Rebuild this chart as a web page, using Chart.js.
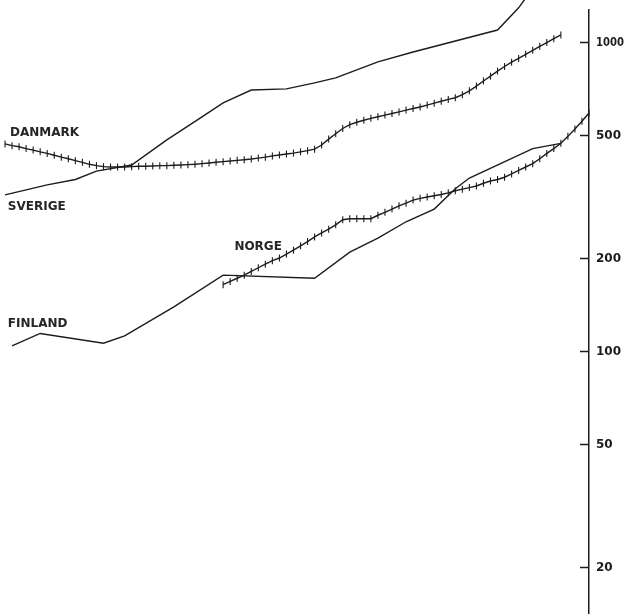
<!DOCTYPE html>
<html>
<head>
<meta charset="utf-8">
<script src="https://cdn.jsdelivr.net/npm/chart.js@4/dist/chart.umd.min.js"></script>
<style>
  html, body { margin: 0; padding: 0; background: #fff; }
  #wrap { width: 626px; height: 614px; }
</style>
</head>
<body>
<div id="wrap"><canvas id="indexChart" width="626" height="614"></canvas></div>
<script>
// y axis ticks (log scale)
const yTicks = [20, 50, 100, 200, 500, 1000];

// Danmark, yearly values 1870-1949 (hatched line)
const danmarkStart = 1870;
const danmarkValues = [
  468, 462, 458, 452, 447, 441, 436, 430, 424, 419,
  413, 408, 402, 398, 395, 394, 394, 394, 395, 396,
  396, 397, 398, 398, 399, 400, 401, 402, 404, 406,
  408, 410, 412, 414, 416, 418, 421, 424, 428, 431,
  434, 437, 441, 445, 450, 464, 485, 505, 525, 540,
  550, 558, 566, 573, 580, 587, 594, 602, 609, 616,
  625, 634, 643, 652, 660, 675, 695, 720, 748, 775,
  805, 833, 860, 885, 912, 940, 968, 996, 1025, 1054
];

// Norge, yearly values 1901-1953 (hatched line)
const norgeStart = 1901;
const norgeValues = [
  164, 168, 172, 176, 181, 186, 191, 196, 200, 206,
  212, 219, 226, 234, 241, 248, 256, 266, 268, 268,
  268, 268, 275, 281, 288, 295, 301, 308, 312, 315,
  318, 321, 325, 330, 334, 338, 342, 349, 355, 359,
  365, 374, 384, 394, 404, 419, 436, 452, 470, 495,
  523, 554, 589
];

// Sverige (plain line)
const sverigeYears = [1870, 1876, 1880, 1883, 1888, 1893, 1898, 1901, 1905, 1910, 1914, 1917, 1923, 1928, 1940, 1943, 1945];
const sverigeValues = [320, 345, 359, 382, 400, 482, 572, 635, 699, 705, 737, 765, 862, 928, 1093, 1290, 1490];

// Finland (plain line)
const finlandYears = [1871, 1875, 1884, 1887, 1894, 1901, 1914, 1919, 1923, 1927, 1931, 1934, 1936, 1945, 1949];
const finlandValues = [104, 114, 106, 112, 139, 176, 172, 209, 232, 262, 288, 335, 363, 452, 470];

// country labels: [text, year, value]
const countryLabels = [
  ["DANMARK", 1870.7, 508],
  ["SVERIGE", 1870.4, 292],
  ["FINLAND", 1870.4, 122],
  ["NORGE", 1902.6, 217]
];

const ink = "#1c1c1c";

function seq(start, values) {
  return values.map((v, i) => ({ x: start + i, y: v }));
}
function pairs(xs, ys) {
  return xs.map((x, i) => ({ x: x, y: ys[i] }));
}

const hatched = {
  borderColor: ink,
  borderWidth: 1.4,
  pointStyle: "line",
  rotation: 90,
  pointRadius: 3.5,
  pointBorderWidth: 1.1,
  pointBorderColor: ink,
  pointBackgroundColor: ink,
  tension: 0,
  clip: false,
};
const plain = {
  borderColor: ink,
  borderWidth: 1.4,
  pointRadius: 0,
  tension: 0,
  clip: false,
};

// right axis: short inward tick marks and the tick labels, placed by the y scale
const axisPlugin = {
  id: "rightAxis",
  afterDatasetsDraw(chart) {
    const { ctx, scales, chartArea } = chart;
    const y = scales.y;
    ctx.save();
    ctx.strokeStyle = ink;
    ctx.lineWidth = 1.5;
    ctx.fillStyle = ink;
    ctx.font = "bold 12px 'DejaVu Sans'";
    ctx.textBaseline = "middle";
    ctx.textAlign = "left";
    y.ticks.forEach((t) => {
      const py = Math.round(y.getPixelForValue(t.value)) + 0.5;
      ctx.beginPath();
      ctx.moveTo(chartArea.right - 9, py);
      ctx.lineTo(chartArea.right, py);
      ctx.stroke();
      // squeeze wide labels (1000) horizontally so they fit the margin
      const txt = String(t.value);
      const sx = Math.min(1, 28 / ctx.measureText(txt).width);
      ctx.save();
      ctx.translate(chartArea.right + 7, py);
      ctx.scale(sx, 1);
      ctx.fillText(txt, 0, 0);
      ctx.restore();
    });
    // country names
    ctx.fillStyle = "#262626";
    countryLabels.forEach(([text, yr, val]) => {
      ctx.fillText(text, scales.x.getPixelForValue(yr), y.getPixelForValue(val));
    });
    ctx.restore();
  },
};

new Chart(document.getElementById("indexChart").getContext("2d"), {
  type: "line",
  data: {
    datasets: [
      { label: "Danmark", data: seq(danmarkStart, danmarkValues), ...hatched },
      { label: "Norge", data: seq(norgeStart, norgeValues), ...hatched },
      { label: "Sverige", data: pairs(sverigeYears, sverigeValues), ...plain },
      { label: "Finland", data: pairs(finlandYears, finlandValues), ...plain },
    ],
  },
  options: {
    responsive: false,
    animation: false,
    events: [],
    layout: { autoPadding: false, padding: { left: 5, top: 10, right: 0, bottom: 0 } },
    plugins: {
      legend: { display: false },
      tooltip: { enabled: false },
    },
    scales: {
      x: {
        type: "linear",
        min: 1870,
        max: 1953,
        display: false,
      },
      y: {
        type: "logarithmic",
        position: "right",
        min: 14.1,
        max: 1269,
        afterBuildTicks: (scale) => {
          scale.ticks = yTicks.map((v) => ({ value: v }));
        },
        afterFit: (scale) => {
          scale.width = 37;
        },
        grid: { display: true, drawOnChartArea: false, drawTicks: false },
        border: { display: true, color: ink, width: 1.5 },
        ticks: { display: false },
      },
    },
  },
  plugins: [axisPlugin],
});
</script>
</body>
</html>
